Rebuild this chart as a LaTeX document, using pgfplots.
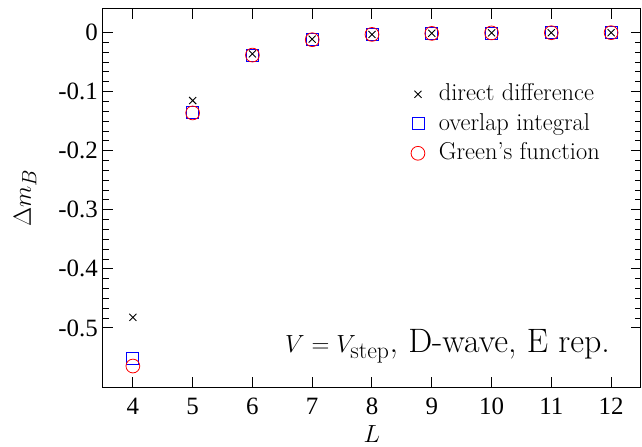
\documentclass[border=0pt]{standalone}
\usepackage{fontspec}
\usepackage{pgfplots}
\pgfplotsset{compat=1.18}
\newfontfamily\tickfont{Liberation Serif}
\begin{document}
\begin{tikzpicture}
\useasboundingbox (-103bp,-60bp) rectangle (539bp,387bp);
\begin{axis}[
  scale only axis, width=538bp, height=378bp,
  xmin=3.5, xmax=12.5, ymin=-0.6, ymax=0.04,
  axis line style={line width=1bp},
  every tick/.style={black, line width=1bp},
  major tick length=10bp, minor tick length=6bp,
  tick align=inside,
  xtick={4,5,6,7,8,9,10,11,12},
  xticklabels={4,5,6,7,8,9,10,11,12},
  ytick={-0.5,-0.4,-0.3,-0.2,-0.1,0},
  yticklabels={-0.5,-0.4,-0.3,-0.2,-0.1,0},
  minor y tick num=5,
  tick label style={font=\tickfont\fontsize{25}{25}\selectfont, inner sep=0pt},
  xticklabel style={anchor=base, yshift=-27bp},
  yticklabel style={anchor=east, xshift=-5bp},
  xlabel={$L$}, ylabel={$\Delta m_B$},
  label style={font=\fontsize{32}{35}\selectfont, inner sep=0pt},
  xlabel style={at={(axis description cs:0.5,-0.148)}, anchor=base},
  ylabel style={at={(axis description cs:-0.134,0.5)}, anchor=base},
  legend style={at={(axis cs:8.65,-0.0846)}, anchor=north west, draw=none, fill=none,
    inner sep=0pt, font=\fontsize{24.5}{27}\selectfont, row sep=6.5bp,
    /tikz/column sep=14bp,
    nodes={inner sep=0pt, text height=18bp, text depth=5bp}},
  legend cell align=left,
]
\addplot[only marks, mark=x, mark size=5bp, black, line width=0.9bp] coordinates {
(4,-0.482) (5,-0.115) (6,-0.036) (7,-0.011) (8,-0.003) (9,-0.0012) (10,-0.0004) (11,-0.0002) (12,-0.0001)};
\addlegendentry{direct difference}
\addplot[only marks, mark=square, mark size=6bp, blue, line width=0.8bp] coordinates {
(4,-0.551) (5,-0.135) (6,-0.038) (7,-0.012) (8,-0.003) (9,-0.0013) (10,-0.0005) (11,-0.0002) (12,-0.0001)};
\addlegendentry{overlap integral}
\addplot[only marks, mark=o, mark size=6.9bp, red, line width=0.8bp] coordinates {
(4,-0.5645) (5,-0.136) (6,-0.038) (7,-0.012) (8,-0.003) (9,-0.0013) (10,-0.0005) (11,-0.0002) (12,-0.0001)};
\addlegendentry{Green's function}
\node[anchor=base east, inner sep=0pt, font=\fontsize{34}{38}\selectfont] at (axis cs:11.983,-0.542) {$V=V_{\mathrm{step}}$, D-wave, E rep.};
\end{axis}
\end{tikzpicture}
\end{document}
